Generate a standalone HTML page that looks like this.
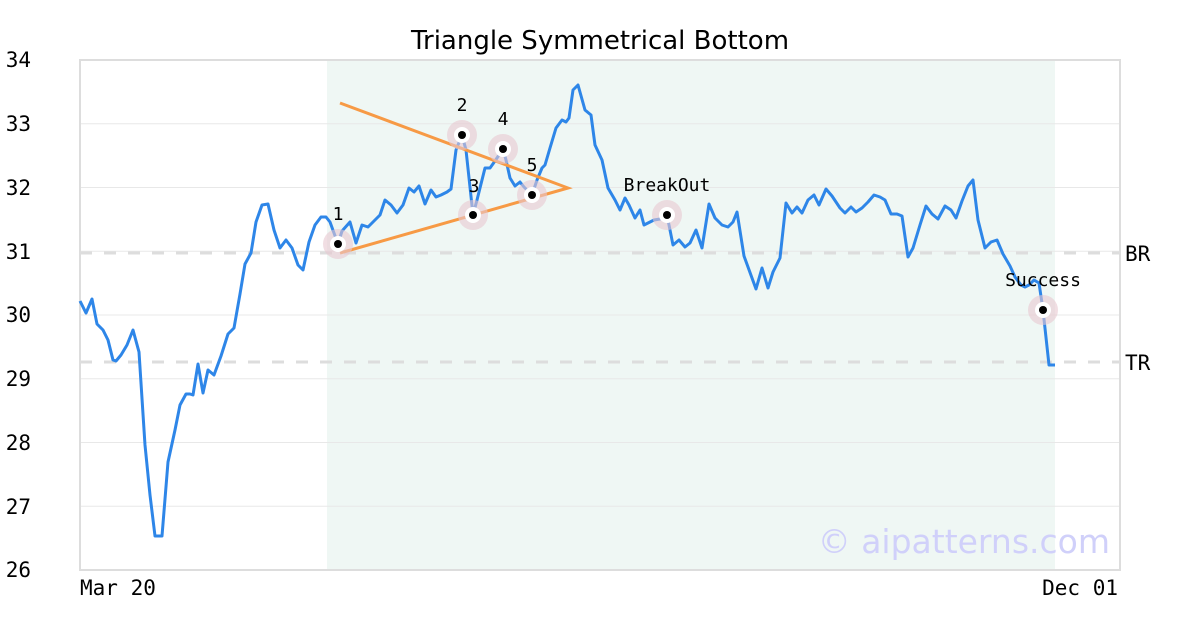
<!DOCTYPE html>
<html><head><meta charset="utf-8"><style>
html,body{margin:0;padding:0;background:#fff;}
svg{display:block;}
text{font-family:"DejaVu Sans Mono","Liberation Mono",monospace;}
</style></head><body>
<svg width="1200" height="630" xmlns="http://www.w3.org/2000/svg">
<rect width="1200" height="630" fill="#fff"/>
<rect x="327" y="60" width="728" height="510" fill="#eff7f4"/>
<g stroke="#e8e8e8" stroke-width="1">
<line x1="80" x2="1120" y1="123.75" y2="123.75"/>
<line x1="80" x2="1120" y1="187.5" y2="187.5"/>
<line x1="80" x2="1120" y1="251.25" y2="251.25"/>
<line x1="80" x2="1120" y1="315" y2="315"/>
<line x1="80" x2="1120" y1="378.75" y2="378.75"/>
<line x1="80" x2="1120" y1="442.5" y2="442.5"/>
<line x1="80" x2="1120" y1="506.25" y2="506.25"/>
</g>
<g stroke="#dddddd" stroke-width="3" stroke-dasharray="12,12">
<line x1="80" x2="1120" y1="253" y2="253"/>
<line x1="80" x2="1120" y1="362" y2="362"/>
</g>
<rect x="80" y="60" width="1040" height="510" fill="none" stroke="#dddddd" stroke-width="2"/>
<text x="600" y="49" font-size="26" text-anchor="middle" fill="#000" style="font-family:'DejaVu Sans',sans-serif">Triangle Symmetrical Bottom</text>
<g font-size="21" fill="#000" text-anchor="end">
<text x="31" y="67">34</text><text x="31" y="131">33</text><text x="31" y="195">32</text>
<text x="31" y="259">31</text><text x="31" y="322">30</text><text x="31" y="386">29</text>
<text x="31" y="450">28</text><text x="31" y="514">27</text><text x="31" y="577">26</text>
</g>
<text x="1125" y="261" font-size="21">BR</text>
<text x="1125" y="370" font-size="21">TR</text>
<text x="80" y="595" font-size="21">Mar 20</text>
<text x="1118" y="595" font-size="21" text-anchor="end">Dec 01</text>
<text x="1110" y="553" font-size="33" text-anchor="end" fill="#d0d0fa" style="font-family:'DejaVu Sans',sans-serif">© aipatterns.com</text>
<polyline fill="none" stroke="#2e86e8" stroke-width="3" stroke-linejoin="round" points="80,301 86,313 92,299 97,324 103,330 108,340 113,360 116,361 121,355 127,345 133,330 139,352 145,445 150,495 155,536 162,536 168,462 175,430 180,405 186,394 190,394 193,395 198,364 203,393 208,370 214,375 221,356 228,334 234,328 240,294 245,264 251,253 256,222 262,205 268,204 274,230 280,248 286,240 292,248 298,265 303,270 309,242 315,225 321,217 326,217 330,222 338,244 342,231 350,222 356,243 362,225 368,227 375,220 380,215 385,200 391,205 397,213 403,205 409,188 414,192 419,186 425,204 431,190 436,197 441,195 447,192 451,189 456,150 462,135 466,150 473,215 477,200 485,168 490,168 495,161 503,149 506,160 510,178 515,186 520,182 524,187 532,195 537,180 542,168 545,165 550,148 556,128 562,120 566,122 569,118 573,90 578,85 585,110 591,115 595,145 602,160 608,188 615,200 620,210 625,198 629,205 635,218 640,210 644,225 650,222 654,220 660,219 667,215 673,245 679,240 685,247 690,243 696,230 702,248 709,204 715,218 722,225 728,227 733,222 737,212 744,256 756,289 762,268 768,288 773,272 780,258 786,203 792,213 797,207 802,213 808,200 814,195 819,205 826,189 832,196 840,208 845,213 851,207 856,212 862,208 868,202 874,195 880,197 885,200 891,214 897,214 902,216 908,257 913,248 920,225 926,206 932,214 938,219 945,206 951,210 956,218 962,201 968,186 973,180 978,220 985,248 991,242 997,240 1003,254 1010,266 1015,277 1021,285 1025,287 1029,285 1034,280 1039,283 1043,310 1049,365 1055,365"/>
<g stroke="#f79a45" stroke-width="3" fill="none">
<polyline points="340,103 568,188 340,253"/>
</g>
<g>
<g fill="#e8c8d0" fill-opacity="0.6">
<circle cx="338" cy="244" r="15"/><circle cx="462" cy="135" r="15"/><circle cx="473" cy="215" r="15"/>
<circle cx="503" cy="149" r="15"/><circle cx="532" cy="195" r="15"/><circle cx="667" cy="215" r="15"/><circle cx="1043" cy="310" r="15"/>
</g>
<g fill="#fff">
<circle cx="338" cy="244" r="8"/><circle cx="462" cy="135" r="8"/><circle cx="473" cy="215" r="8"/>
<circle cx="503" cy="149" r="8"/><circle cx="532" cy="195" r="8"/><circle cx="667" cy="215" r="8"/><circle cx="1043" cy="310" r="8"/>
</g>
<g fill="#000">
<circle cx="338" cy="244" r="4"/><circle cx="462" cy="135" r="4"/><circle cx="473" cy="215" r="4"/>
<circle cx="503" cy="149" r="4"/><circle cx="532" cy="195" r="4"/><circle cx="667" cy="215" r="4"/><circle cx="1043" cy="310" r="4"/>
</g>
</g>
<g font-size="18" fill="#000" text-anchor="middle">
<text x="338" y="220">1</text><text x="462" y="111">2</text><text x="474" y="192">3</text>
<text x="503" y="125">4</text><text x="532" y="171">5</text><text x="667" y="191">BreakOut</text><text x="1043" y="286">Success</text>
</g>
</svg>
</body></html>
